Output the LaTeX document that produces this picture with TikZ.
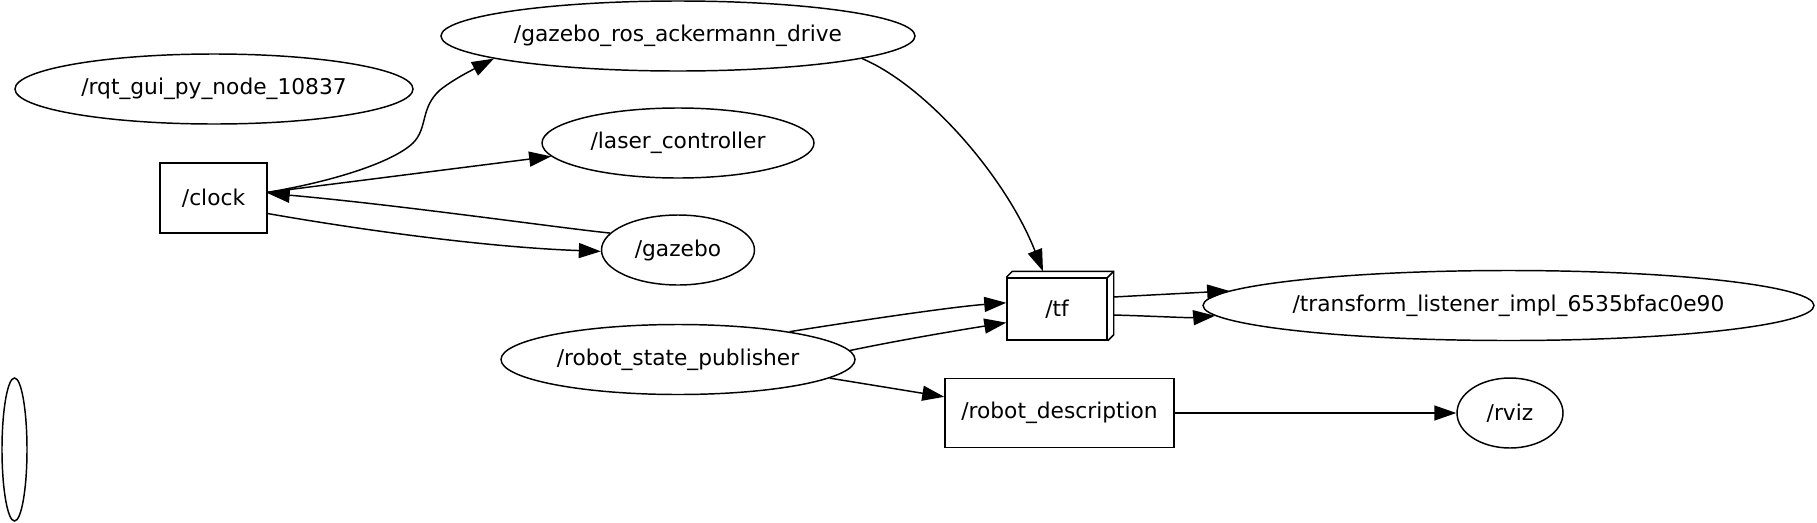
\documentclass[tikz,border=0pt]{standalone}
\usepackage{fontspec}
\setmainfont{DejaVu Sans}
\usetikzlibrary{arrows.meta,calc,shapes.geometric}
\begin{document}
\begin{tikzpicture}[x=0.75pt,y=-0.75pt,
  nd/.style={draw, line width=1.1pt, inner sep=0pt, font=\fontsize{16.3pt}{19pt}\selectfont},
  ell/.style={nd, ellipse, minimum height=52.5pt},
  boxn/.style={nd, rectangle},
  edge/.style={line width=1.1pt, -{Triangle[length=16.5pt,width=11.25pt]}},
]
\useasboundingbox (0,0) rectangle (1817,522);

\node[ell, minimum width=298.5pt] (rqt) at (214,89) {/rqt\_gui\_py\_node\_10837};
\node[ell, minimum width=355.5pt] (ack) at (678,36) {/gazebo\_ros\_ackermann\_drive};
\node[ell, minimum width=204pt] (laser) at (678,143) {/laser\_controller};
\node[boxn, minimum width=80.25pt, minimum height=52.5pt] (clock) at (213.5,198) {/clock};
\node[ell, minimum width=114.75pt] (gazebo) at (678,250) {/gazebo};
\node[boxn, minimum width=75pt, minimum height=46.5pt] (tf) at (1057,309) {/tf};
\node[ell, minimum width=458.25pt] (trans) at (1508.5,305.5) {/transform\_listener\_impl\_6535bfac0e90};
\node[ell, minimum width=265.5pt] (rsp) at (678,359.5) {/robot\_state\_publisher};
\node[boxn, minimum width=171.75pt, minimum height=51.75pt] (rdesc) at (1059.5,413) {/robot\_description};
\node[ell, minimum width=79.5pt] (rviz) at (1510,413) {/rviz};
\node[ell, minimum width=18.75pt, minimum height=107.25pt] (blank) at (14.5,449.5) {};

% 3D depth of /tf
\draw[line width=1.1pt, line join=miter]
  (tf.north west) -- ($(tf.north west)+(6,-6)$) -- ($(tf.north east)+(6,-6)$)
  -- ($(tf.south east)+(6,-6)$) -- (tf.south east);
\draw[line width=1.1pt] (tf.north east) -- ($(tf.north east)+(6,-6)$);

% edges
\draw[edge] (clock.6) .. controls (330,182) and (392,163) .. (413,143)
  .. controls (428,128) and (420,108) .. (440,90)
  .. controls (455,78) and (478,67) .. (ack.187);
\draw[edge] (clock.6) -- (laser.186.8);
\draw[edge] (gazebo.166) .. controls (560,228) and (400,205) .. (clock.5);
\draw[edge] (clock.-16) .. controls (350,228) and (480,247) .. (gazebo.181.5);
\draw[edge] (ack.-7.4) .. controls (925,85) and (1005,175) .. ($(tf.north)+(-14,-6)$);
\draw[edge] (rsp.14) .. controls (850,322) and (950,307) .. (tf.173.2);
\draw[edge] (rsp.3.9) .. controls (900,340) and (960,330) .. (tf.195.6);
\draw[edge] ($(tf.east)+(6,-12)$) .. controls (1150,295) and (1190,293) .. (trans.177.5);
\draw[edge] ($(tf.east)+(6,6)$) .. controls (1150,316) and (1190,318) .. (trans.182.5);
\draw[edge] (rsp.-7.3) -- (rdesc.172.5);
\draw[edge] (rdesc.east) -- (rviz.west);
\end{tikzpicture}
\end{document}
